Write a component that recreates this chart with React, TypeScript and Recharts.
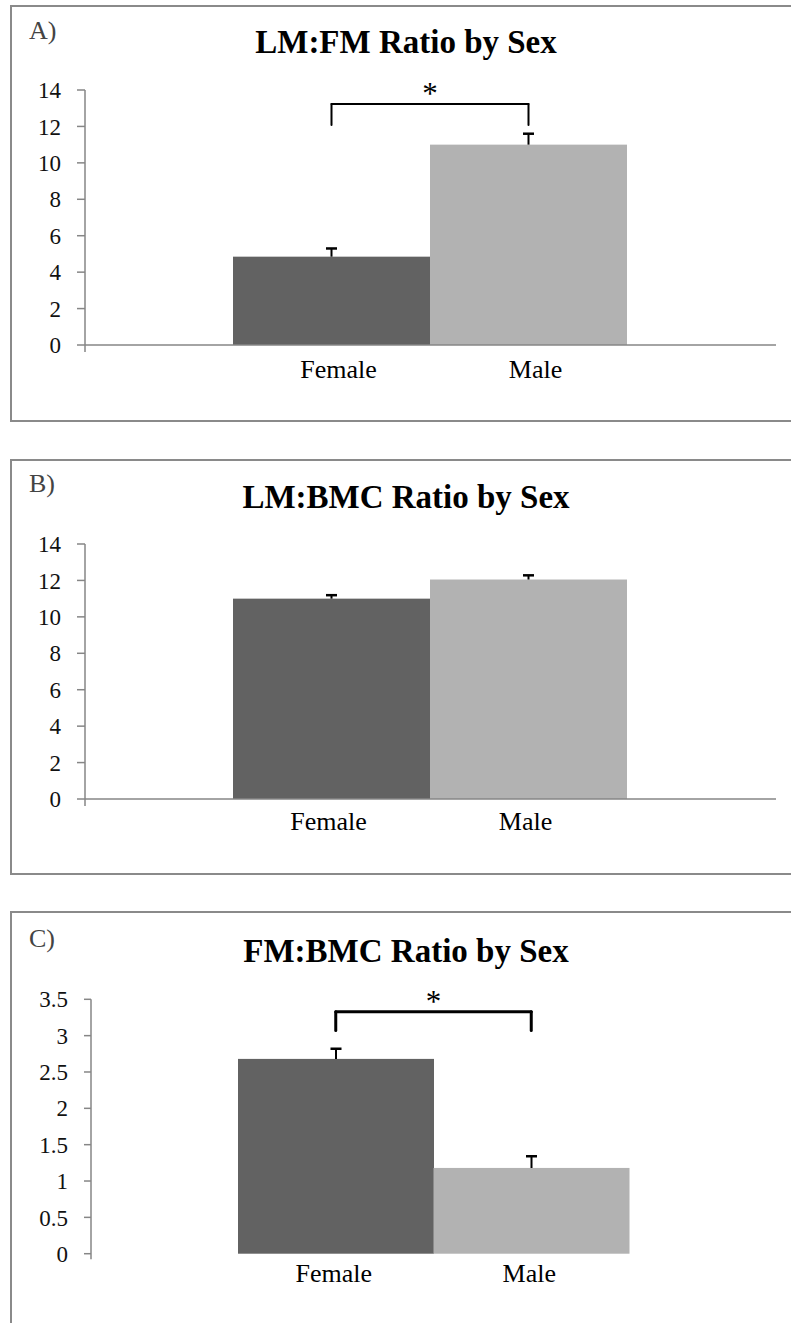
import React from "react";
import { BarChart, Bar, XAxis, YAxis, Cell, ReferenceLine } from "recharts";

const SEXES = ["Female", "Male"];

const LM_FM_MEANS = [4.85, 11.0];
const LM_FM_ERRORS = [0.45, 0.6];

const LM_BMC_MEANS = [11.0, 12.05];
const LM_BMC_ERRORS = [0.19, 0.23];

const FM_BMC_MEANS = [2.68, 1.18];
const FM_BMC_ERRORS = [0.14, 0.16];

const TICKS_14 = [0, 2, 4, 6, 8, 10, 12, 14];
const TICKS_35 = [0, 0.5, 1, 1.5, 2, 2.5, 3, 3.5];

// significance bracket: [leg bottom, bracket top] in data units
const LM_FM_BRACKET = [12.08, 13.23];
const FM_BMC_BRACKET = [3.07, 3.33];

const BAR_COLORS = ["#626262", "#b2b2b2"];
const AXIS_GRAY = "#868686";
const FONT = '"Liberation Serif", "Times New Roman", serif';
const W = 791;

function BarWithError(props: any) {
  const { x, y, width, height, payload, index } = props;
  const fill = props.fill || BAR_COLORS[index];
  const pxPerUnit = payload.value ? height / payload.value : 0;
  const top = y - payload.err * pxPerUnit;
  const cx = x + width / 2;
  return (
    <g>
      <rect x={x} y={y} width={width} height={height} fill={fill} />
      <line x1={cx} x2={cx} y1={y} y2={top} stroke="#000" strokeWidth={2} />
      <line x1={cx - 5.5} x2={cx + 5.5} y1={top} y2={top} stroke="#000" strokeWidth={2.5} />
    </g>
  );
}

interface PanelProps {
  letter: string;
  title: string;
  boxTop: number;
  boxHeight: number;
  means: number[];
  errors: number[];
  ticks: number[];
  domainMin: number;
  bracket?: number[];
  bracketWidth?: number;
  plotTop: number;
  plotBottom: number;
  plotLeft: number;
  plotRight: number;
  barPad: [number, number];
  xAxisLine: boolean;
  labelGap: number;
  labelDx: number;
  titleY: number;
  letterY: number;
  tickSize: number;
}

function Panel(p: PanelProps) {
  const data = SEXES.map((sex, i) => ({ sex, value: p.means[i], err: p.errors[i] }));
  const chartH = 420;
  const segs = p.bracket
    ? [
        [{ x: SEXES[0], y: p.bracket[1] }, { x: SEXES[1], y: p.bracket[1] }],
        [{ x: SEXES[0], y: p.bracket[0] }, { x: SEXES[0], y: p.bracket[1] }],
        [{ x: SEXES[1], y: p.bracket[0] }, { x: SEXES[1], y: p.bracket[1] }],
      ]
    : [];

  return (
    <>
      <div
        style={{
          position: "absolute",
          left: 10,
          top: p.boxTop,
          width: 800,
          height: p.boxHeight,
          border: "2px solid #8a8a8a",
          boxSizing: "border-box",
        }}
      />
      <div style={{ position: "absolute", left: 0, top: p.boxTop, width: W, height: chartH }}>
        <BarChart
          width={W}
          height={chartH}
          data={data}
          margin={{ top: p.plotTop, right: W - p.plotRight, bottom: 0, left: 0 }}
          barCategoryGap={0}
          barGap={0}
        >
          <XAxis
            dataKey="sex"
            axisLine={false}
            tickLine={false}
            tickSize={0}
            tickMargin={p.labelGap}
            height={chartH - p.plotBottom}
            padding={{ left: p.barPad[0], right: p.barPad[1] }}
            tick={{ fill: "#000", fontSize: 26, fontFamily: FONT, dx: p.labelDx }}
          />
          <YAxis
            width={p.plotLeft}
            domain={[p.domainMin, p.ticks[p.ticks.length - 1]]}
            ticks={p.ticks}
            allowDataOverflow
            axisLine={{ stroke: AXIS_GRAY, strokeWidth: 1.5 }}
            tickLine={{ stroke: AXIS_GRAY, strokeWidth: 1.5 }}
            tickSize={p.tickSize}
            tickMargin={16}
            tick={{ fill: "#111", fontSize: 23, fontFamily: FONT }}
          />
          {p.xAxisLine && <ReferenceLine y={0} stroke={AXIS_GRAY} strokeWidth={1.5} />}
          <Bar dataKey="value" shape={BarWithError} isAnimationActive={false}>
            {data.map((d, i) => (
              <Cell key={d.sex} fill={BAR_COLORS[i]} />
            ))}
          </Bar>
          {segs.map((seg, i) => (
            <ReferenceLine
              key={i}
              segment={seg}
              stroke="#000"
              strokeWidth={p.bracketWidth}
              strokeLinecap="round"
              label={
                i === 0
                  ? { value: "*", position: "top", offset: 0, fill: "#000", fontSize: 31, fontFamily: FONT }
                  : undefined
              }
            />
          ))}
        </BarChart>
      </div>
      <svg
        width={W}
        height={80}
        style={{ position: "absolute", left: 0, top: p.boxTop, pointerEvents: "none" }}
      >
        <text x={29} y={p.letterY} fontFamily={FONT} fontSize={26} fill="#444">
          {p.letter}
        </text>
        <text x={406} y={p.titleY} textAnchor="middle" fontFamily={FONT} fontSize={33} fontWeight="bold" fill="#000">
          {p.title}
        </text>
      </svg>
    </>
  );
}

export default function App() {
  return (
    <div
      style={{
        position: "absolute",
        left: 0,
        top: 0,
        width: W,
        height: 1323,
        overflow: "hidden",
        background: "#fff",
      }}
    >
      <Panel
        letter="A)"
        title="LM:FM Ratio by Sex"
        boxTop={5}
        boxHeight={417}
        means={LM_FM_MEANS}
        errors={LM_FM_ERRORS}
        ticks={TICKS_14}
        domainMin={-0.384}
        bracket={LM_FM_BRACKET}
        bracketWidth={2}
        plotTop={85}
        plotBottom={347}
        plotLeft={85}
        plotRight={776}
        barPad={[148, 149]}
        xAxisLine
        labelGap={7.5}
        labelDx={7}
        titleY={48}
        letterY={34}
        tickSize={8}
      />
      <Panel
        letter="B)"
        title="LM:BMC Ratio by Sex"
        boxTop={459}
        boxHeight={416}
        means={LM_BMC_MEANS}
        errors={LM_BMC_ERRORS}
        ticks={TICKS_14}
        domainMin={-0.384}
        plotTop={85}
        plotBottom={347}
        plotLeft={85}
        plotRight={776}
        barPad={[148, 149]}
        xAxisLine
        labelGap={5.5}
        labelDx={-3}
        titleY={49}
        letterY={33}
        tickSize={8}
      />
      <Panel
        letter="C)"
        title="FM:BMC Ratio by Sex"
        boxTop={911}
        boxHeight={440}
        means={FM_BMC_MEANS}
        errors={FM_BMC_ERRORS}
        ticks={TICKS_35}
        domainMin={-0.077}
        bracket={FM_BMC_BRACKET}
        bracketWidth={3}
        plotTop={88.3}
        plotBottom={348.3}
        plotLeft={91}
        plotRight={776}
        barPad={[147, 147]}
        xAxisLine={false}
        labelGap={4}
        labelDx={-2}
        titleY={51}
        letterY={36}
        tickSize={7}
      />
    </div>
  );
}
